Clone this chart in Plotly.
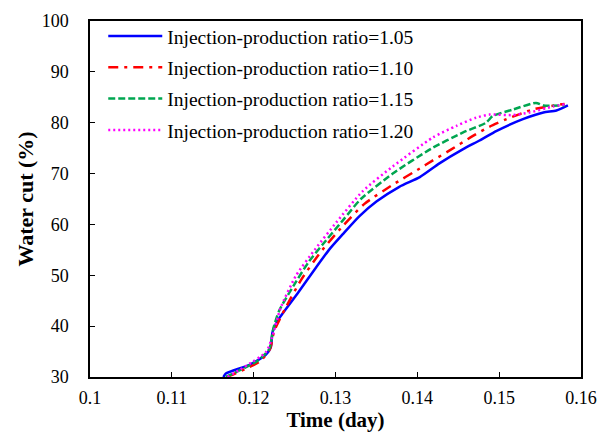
import plotly.graph_objects as go

# time (day) and water cut (%)
t_105 = [0.1163, 0.1166, 0.1195, 0.1215, 0.1221, 0.1223, 0.1229, 0.1254, 0.1276, 0.1293,
         0.1309, 0.1329, 0.1350, 0.1378, 0.1403, 0.1427, 0.1456, 0.1476, 0.1497, 0.1529,
         0.1554, 0.1570, 0.1584]
wc_105 = [30.0, 30.7, 32.4, 34.4, 35.9, 38.8, 41.0, 46.5, 51.5, 55.2,
          58.1, 61.6, 64.5, 67.4, 69.3, 72.0, 74.8, 76.5, 78.4, 80.7,
          82.0, 82.4, 83.4]

t_110 = [0.1167, 0.1207, 0.1220, 0.1225, 0.1239, 0.1258, 0.1282, 0.1309, 0.1335, 0.1370,
         0.1403, 0.1419, 0.1439, 0.1468, 0.1488, 0.1509, 0.1541, 0.1580]
wc_110 = [30.0, 33.0, 35.5, 39.0, 43.6, 49.1, 54.6, 59.7, 64.0, 67.8,
          71.0, 72.6, 74.5, 77.4, 79.2, 80.7, 82.6, 83.7]

t_115 = [0.1166, 0.1205, 0.1219, 0.1224, 0.1231, 0.1252, 0.1268, 0.1284, 0.1309, 0.1331,
         0.1370, 0.1417, 0.1456, 0.1484, 0.1492, 0.1517, 0.1545, 0.1554, 0.1580]
wc_115 = [30.0, 33.2, 35.5, 39.5, 43.0, 48.8, 52.8, 56.0, 60.8, 65.0,
          70.0, 74.9, 78.1, 80.0, 81.3, 82.6, 83.9, 83.4, 83.4]

t_120 = [0.1168, 0.1215, 0.1222, 0.1233, 0.1252, 0.1276, 0.1301, 0.1333, 0.1370, 0.1419,
         0.1448, 0.1472, 0.1488, 0.1517, 0.1537, 0.1566, 0.1580]
wc_120 = [30.0, 34.9, 37.5, 43.6, 50.0, 55.3, 60.4, 66.5, 71.4, 77.1,
          79.4, 81.0, 81.6, 81.5, 82.0, 83.2, 83.6]

series = [
    ("Injection-production ratio=1.05", t_105, wc_105, "#0000ff", "solid"),
    ("Injection-production ratio=1.10", t_110, wc_110, "#ff0000", "10px,6px,3px,6px"),
    ("Injection-production ratio=1.15", t_115, wc_115, "#00a650", "7px,3px"),
    ("Injection-production ratio=1.20", t_120, wc_120, "#ff00ff", "2px,3px"),
]

x_ticks = [0.1, 0.11, 0.12, 0.13, 0.14, 0.15, 0.16]
x_labels = ["0.1", "0.11", "0.12", "0.13", "0.14", "0.15", "0.16"]
y_ticks = [30, 40, 50, 60, 70, 80, 90, 100]

fig = go.Figure()
for name, t, wc, color, dash in series:
    fig.add_trace(go.Scatter(x=t, y=wc, name=name, mode="lines", legendgroup=name,
                             line=dict(color=color, width=2.5, dash=dash, shape="spline",
                                       smoothing=0.6)))

axis_style = dict(showline=True, linecolor="black", linewidth=1.5, mirror=True,
                  ticks="inside", ticklen=5, tickcolor="black", showgrid=False,
                  zeroline=False, automargin=False, ticklabeloverflow="allow",
                  tickfont=dict(size=18, color="black"))

# page body has an 8px margin, so the figure is a bit smaller than the window
fig.update_layout(
    width=599, height=424,
    margin=dict(l=82, r=26, t=9, b=55),
    plot_bgcolor="white", paper_bgcolor="white",
    font=dict(family="Liberation Serif, Times New Roman, serif", color="black"),
    xaxis=dict(range=[0.1, 0.16], tickvals=x_ticks, ticktext=x_labels, ticklabelstandoff=4,
               title=dict(text="<b>Time (day)</b>", font=dict(size=21), standoff=4),
               **axis_style),
    yaxis=dict(range=[30, 100], tickvals=y_ticks, ticklabelstandoff=16,
               title=dict(text="<b>Water cut (%)</b>", font=dict(size=22), standoff=2),
               **axis_style),
    legend=dict(x=0.027, y=1.012, xanchor="left", yanchor="top",
                bgcolor="rgba(0,0,0,0)", font=dict(size=19.5), itemwidth=54,
                tracegroupgap=3),
    showlegend=True,
)

fig.write_html("out.html")
